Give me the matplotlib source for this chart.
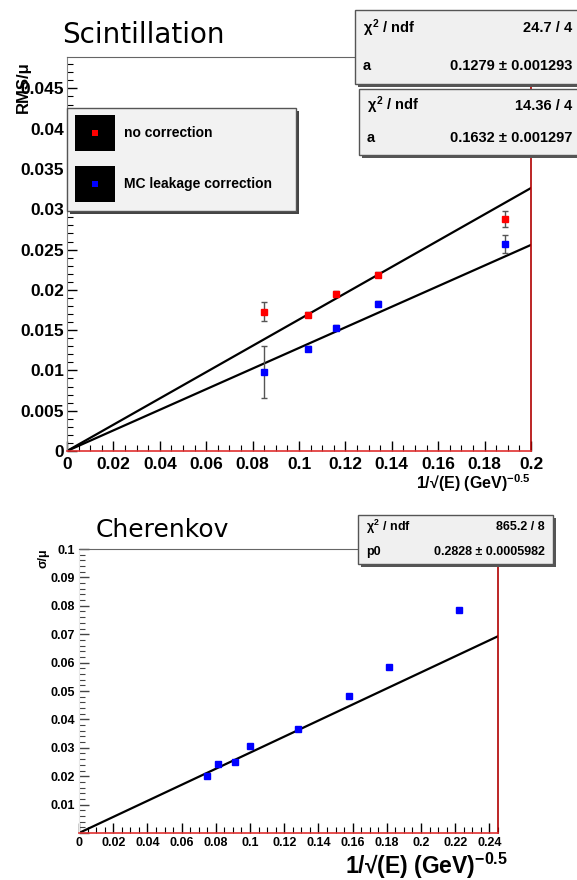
import matplotlib.pyplot as plt
from matplotlib.patches import Rectangle
from matplotlib.ticker import MultipleLocator, FormatStrFormatter
import numpy as np

plt.rcParams["mathtext.fontset"] = "custom"
plt.rcParams["mathtext.rm"] = "Liberation Sans:bold"
plt.rcParams["mathtext.bf"] = "Liberation Sans:bold"
plt.rcParams["mathtext.it"] = "Liberation Sans:bold"

BOLD = dict(family=["Liberation Sans", "DejaVu Sans"], fontweight="bold")

# scintillation data
scint_x = [0.085, 0.104, 0.116, 0.134, 0.189]
scint_raw = [0.0173, 0.0169, 0.0195, 0.0219, 0.0288]
scint_raw_err = [0.0012, 0.0003, 0.0003, 0.0003, 0.0010]
scint_corr = [0.0098, 0.0127, 0.0153, 0.0183, 0.0257]
scint_corr_err = [0.0032, 0.0003, 0.0003, 0.0003, 0.0011]
fit_a = [0.1279, 0.1632]
fit_a_err = [0.001293, 0.001297]
fit_chi2 = ["24.7 / 4", "14.36 / 4"]

# cherenkov data
cher_x = [0.075, 0.081, 0.091, 0.100, 0.128, 0.158, 0.181, 0.222]
cher_y = [0.0200, 0.0242, 0.0250, 0.0307, 0.0365, 0.0482, 0.0585, 0.0785]
cher_p0 = 0.2828
cher_p0_err = 0.0005982
cher_chi2 = "865.2 / 8"

fig = plt.figure(figsize=(5.77, 8.8), dpi=100)
W, H = 577, 880


def fx(px):
    return px / W


def fy(py):
    return 1 - py / H


def root_axes(ax, left_col="#888888"):
    ax.tick_params(which="both", direction="in", right=False, top=False)
    ax.tick_params(which="major", length=7, width=1)
    ax.tick_params(which="minor", length=4, width=0.8)
    ax.spines["left"].set_color(left_col)
    ax.spines["top"].set_color("#666666")
    ax.spines["right"].set_color("#b00000")
    ax.spines["bottom"].set_color("#e03030")
    ax.spines["right"].set_linewidth(1.2)
    ax.spines["bottom"].set_linewidth(1.2)


def stat_box(x0, y0, x1, y1, rows, size):
    # shadow + box in pixel coords
    fig.patches.append(Rectangle((fx(x0 + 3), fy(y1 + 3)), fx(x1 - x0), (y1 - y0) / H,
                                 transform=fig.transFigure, facecolor="#555555",
                                 edgecolor="none", zorder=9))
    fig.patches.append(Rectangle((fx(x0), fy(y1)), fx(x1 - x0), (y1 - y0) / H,
                                 transform=fig.transFigure, facecolor="#f0f0f0",
                                 edgecolor="#555555", lw=1, zorder=10))
    n = len(rows)
    for i, (k, v) in enumerate(rows):
        yy = y0 + (i + 0.5) * (y1 - y0) / n
        fig.text(fx(x0 + 8), fy(yy), k, ha="left", va="center", size=size, zorder=11, **BOLD)
        fig.text(fx(x1 - 8), fy(yy), v, ha="right", va="center", size=size, zorder=11, **BOLD)


# ---------- top panel ----------
ax1 = fig.add_axes([fx(67), fy(451), fx(531 - 67), (451 - 57) / H])
xs = np.linspace(0, 0.2, 50)
ax1.plot(xs, fit_a[1] * xs, color="black", lw=1.6, zorder=2)
ax1.plot(xs, fit_a[0] * xs, color="black", lw=1.6, zorder=2)
ax1.errorbar(scint_x, scint_raw, yerr=scint_raw_err, fmt="s", color="red", ms=5,
             ecolor="#555555", elinewidth=1, capsize=2, zorder=3)
ax1.errorbar(scint_x, scint_corr, yerr=scint_corr_err, fmt="s", color="blue", ms=5,
             ecolor="#555555", elinewidth=1, capsize=2, zorder=3)
ax1.set_xlim(0, 0.2)
ax1.set_ylim(0, 0.0489)
ax1.xaxis.set_major_locator(MultipleLocator(0.02))
ax1.xaxis.set_minor_locator(MultipleLocator(0.005))
ax1.yaxis.set_major_locator(MultipleLocator(0.005))
ax1.yaxis.set_minor_locator(MultipleLocator(0.001))
root_axes(ax1)
ax1.xaxis.set_major_formatter(FormatStrFormatter("%g"))
ax1.yaxis.set_major_formatter(FormatStrFormatter("%g"))
for lab in ax1.get_xticklabels() + ax1.get_yticklabels():
    lab.set_fontsize(12.5)
    lab.set_fontweight("bold")
    lab.set_family(["Liberation Sans", "DejaVu Sans"])
ax1.tick_params(axis="x", pad=4)
ax1.tick_params(axis="y", pad=2)

fig.text(fx(62), fy(35), "Scintillation", size=20, ha="left", va="center", family="DejaVu Sans")
fig.text(fx(531), fy(483), "1/√(E) (GeV)$^{-0.5}$", size=11.5, ha="right", va="center", **BOLD)
fig.text(fx(23), fy(87), "RMS/μ", size=12, rotation=90, ha="center", va="center", **BOLD)

# legend
lx0, ly0, lx1, ly1 = 67, 108, 296, 211
fig.patches.append(Rectangle((fx(lx0 + 3), fy(ly1 + 3)), fx(lx1 - lx0), (ly1 - ly0) / H,
                             transform=fig.transFigure, facecolor="#444444", zorder=9))
fig.patches.append(Rectangle((fx(lx0), fy(ly1)), fx(lx1 - lx0), (ly1 - ly0) / H,
                             transform=fig.transFigure, facecolor="#f2f2f2",
                             edgecolor="#555555", lw=1, zorder=10))
for yy, col, txt in [(133, "red", "no correction"), (184, "blue", "MC leakage correction")]:
    fig.patches.append(Rectangle((fx(75), fy(yy + 18)), fx(40), 36 / H,
                                 transform=fig.transFigure, facecolor="black", zorder=11))
    fig.patches.append(Rectangle((fx(92), fy(yy + 3)), fx(6), 6 / H,
                                 transform=fig.transFigure, facecolor=col, zorder=12))
    fig.text(fx(124), fy(yy), txt, size=10, ha="left", va="center", zorder=12, **BOLD)

stat_box(355, 10, 580, 84, [(r"$\chi^{2}$ / ndf", fit_chi2[0]),
                            ("a", f"{fit_a[0]:.4f} ± {fit_a_err[0]:.6f}")], 10.5)
stat_box(359, 89, 580, 155, [(r"$\chi^{2}$ / ndf", fit_chi2[1]),
                             ("a", f"{fit_a[1]:.4f} ± {fit_a_err[1]:.6f}")], 10.5)

# ---------- bottom panel ----------
ax2 = fig.add_axes([fx(79), fy(833), fx(498 - 79), (833 - 549) / H])
xb = np.linspace(0, 0.245, 50)
ax2.plot(xb, cher_p0 * xb, color="black", lw=1.6, zorder=2)
ax2.plot(cher_x, cher_y, "s", color="blue", ms=5, zorder=3)
ax2.set_xlim(0, 0.245)
ax2.set_ylim(0, 0.1)
ax2.xaxis.set_major_locator(MultipleLocator(0.02))
ax2.xaxis.set_minor_locator(MultipleLocator(0.005))
ax2.yaxis.set_major_locator(MultipleLocator(0.01))
ax2.yaxis.set_minor_locator(MultipleLocator(0.002))
root_axes(ax2, left_col="#e8e8e8")
ax2.tick_params(axis="y", which="both", colors="#444444", pad=3)
ax2.xaxis.set_major_formatter(FormatStrFormatter("%g"))
ax2.yaxis.set_major_formatter(lambda v, p: "" if v == 0 else f"{v:g}")
for lab in ax2.get_xticklabels() + ax2.get_yticklabels():
    lab.set_fontsize(9)
    lab.set_fontweight("bold")
    lab.set_family(["Liberation Sans", "DejaVu Sans"])
    lab.set_color("black")
ax2.tick_params(axis="x", pad=3)

fig.text(fx(96), fy(530), "Cherenkov", size=18, ha="left", va="center", family="DejaVu Sans")
fig.text(fx(508), fy(866), "1/√(E) (GeV)$^{-0.5}$", size=16.5, ha="right", va="center", **BOLD)
fig.text(fx(44), fy(558), "σ/μ", size=9, rotation=90, ha="center", va="center", **BOLD)

stat_box(358, 515, 553, 564, [(r"$\chi^{2}$ / ndf", cher_chi2),
                              ("p0", f"{cher_p0:.4f} ± {cher_p0_err:.7f}")], 9)

fig.savefig("out.png", dpi=100)
